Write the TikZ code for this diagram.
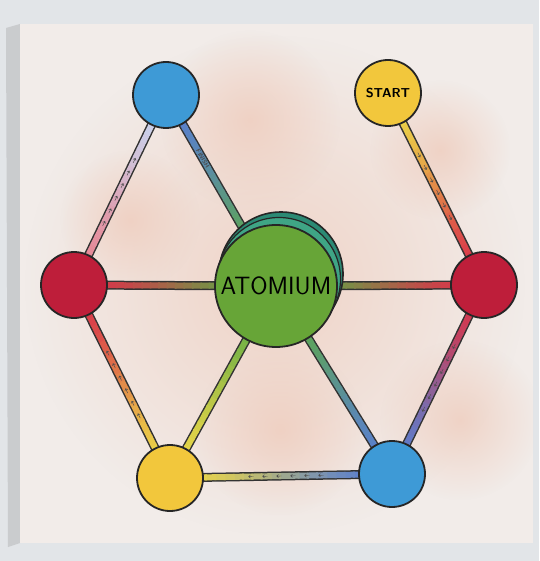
\documentclass[tikz,border=0pt]{standalone}
\usetikzlibrary{calc, decorations.markings, fadings}
\definecolor{wallgrey}{HTML}{E2E5E8}
\definecolor{sidegrey}{HTML}{CACCCE}
\definecolor{boardcol}{HTML}{F2ECE9}
\definecolor{washcol}{HTML}{EFCDBE}
\definecolor{spotblue}{HTML}{3E9AD6}
\definecolor{spotred}{HTML}{BE1E3A}
\definecolor{spotyellow}{HTML}{F2C73C}
\definecolor{atomgreen}{HTML}{67A537}
\definecolor{atomteal}{HTML}{2C8A74}
\definecolor{atomtealb}{HTML}{3FA585}
\definecolor{linkblue}{HTML}{5A7FCF}
\definecolor{linkred}{HTML}{D8354A}
\definecolor{linkyellow}{HTML}{EBD648}
\definecolor{linkgreen}{HTML}{5DAA45}
\tikzfading[name=softspot, inner color=transparent!0, outer color=transparent!100]
\pgfdeclarelayer{board}
\pgfdeclarelayer{links}
\pgfsetlayers{board,links,main}
\newcommand{\bandlink}[4]{%
  \draw[line width=9pt, black!80] (#1.center) -- (#2.center);
  \foreach \k [evaluate=\k as \p using {int(100*(3*(\k/23)^2-2*(\k/23)^3))}] in {0,...,23}
    \draw[line width=6pt, draw=#4!\p!#3] ($(#1.center)!{\k/24}!(#2.center)$) -- ($(#1.center)!{(\k+1.2)/24}!(#2.center)$);
}
\begin{document}
\begin{tikzpicture}[x=1pt, y=-1pt,
  spot/.style={circle, draw=black!85, line width=1.8pt, minimum size=66pt, inner sep=0pt},
  hub/.style={circle, draw=black!85, line width=1.8pt, minimum size=122pt, inner sep=0pt, fill=atomgreen},
  wash/.style={fill=washcol, path fading=softspot, fill opacity=0.8},
  marks/.style={postaction={decorate}, decoration={markings, mark=between positions 0.24 and 0.78 step 14pt with {\draw[black!70, line width=0.45pt] (-2.5pt,0) -- (2.5pt,0) (0.6pt,1.6pt) -- (2.5pt,0) -- (0.6pt,-1.6pt);}}}]
\useasboundingbox (0,0) rectangle (539,561);
\begin{pgfonlayer}{board}
\fill[wallgrey] (0,0) rectangle (539,561);
\fill[sidegrey] (6,28) -- (20,24) -- (20,543) -- (8,547) -- cycle;
\fill[boardcol] (20,24) rectangle (533,543);
\begin{scope}
\clip (20,24) rectangle (533,543);
\fill[wash] (275,285) circle (250pt);
\fill[wash] (250,120) circle (90pt);
\fill[wash] (130,220) circle (70pt);
\fill[wash] (460,420) circle (80pt);
\fill[wash] (280,430) circle (85pt);
\fill[wash] (440,150) circle (70pt);
\end{scope}
\end{pgfonlayer}
\filldraw[fill=atomteal, draw=black!85, line width=1.6pt] (281,274) circle (62pt);
\filldraw[fill=atomtealb, draw=black!85, line width=1.2pt] (279,279) circle (61.5pt);
\node[hub, font=\sffamily\fontsize{25}{25}\selectfont] (atom) at (276,286) {ATOMIUM};
\node[spot, fill=spotblue] (tlb) at (166,95) {};
\node[spot, fill=spotyellow, font=\sffamily\bfseries\fontsize{13}{13}\selectfont] (start) at (388,93) {START};
\node[spot, fill=spotred] (lr) at (74,285) {};
\node[spot, fill=spotred] (rr) at (484,285) {};
\node[spot, fill=spotyellow] (by) at (170,478) {};
\node[spot, fill=spotblue] (bb) at (392,474) {};
\begin{pgfonlayer}{links}
\bandlink{start}{rr}{linkyellow}{linkred}
\bandlink{rr}{bb}{linkred}{linkblue}
\bandlink{bb}{by}{linkblue}{linkyellow}
\bandlink{by}{lr}{linkyellow}{linkred}
\bandlink{lr}{tlb}{linkred!60!white}{linkblue!55!white}
\bandlink{tlb}{atom}{linkblue}{linkgreen}
\bandlink{lr}{atom}{linkred}{linkgreen}
\bandlink{atom}{rr}{linkgreen}{linkred}
\bandlink{atom}{by}{linkgreen}{linkyellow}
\bandlink{atom}{bb}{linkgreen}{linkblue}
\path[marks] (start) -- (rr);
\path[marks] (rr) -- (bb);
\path[marks] (bb) -- (by);
\path[marks] (by) -- (lr);
\path[marks] (lr) -- (tlb);
\path (tlb) -- node[pos=0.32, sloped, inner sep=0pt, font=\sffamily\bfseries\fontsize{6}{6}\selectfont, text=black!70] {FINISH} (atom);
\end{pgfonlayer}
\end{tikzpicture}
\end{document}
